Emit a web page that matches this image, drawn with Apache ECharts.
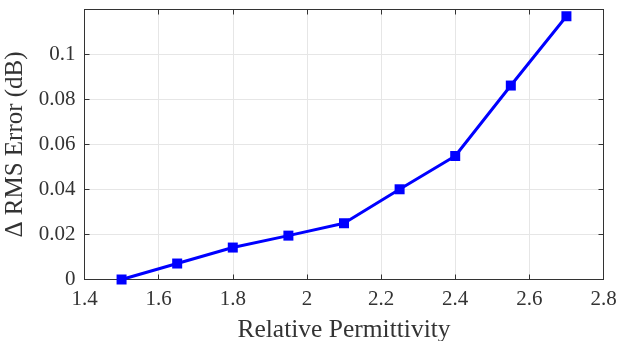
<!DOCTYPE html>
<html><head><meta charset="utf-8">
<script src="https://cdn.jsdelivr.net/npm/echarts@6/dist/echarts.min.js"></script>
<style>html,body{margin:0;padding:0;background:#fff}#c{width:621px;height:341px}</style>
</head><body><div id="c"></div>
<script>
const permittivity = [1.5, 1.65, 1.8, 1.95, 2.1, 2.25, 2.4, 2.55, 2.7];
const rmsError = [0, 0.0071, 0.0142, 0.0195, 0.025, 0.0401, 0.0549, 0.0862, 0.117];
const xTitle = 'Relative Permittivity';
const yTitle = 'Δ RMS Error (dB)';
const data = permittivity.map((x, i) => [x, rmsError[i]]);
const font = 'Liberation Serif';
const axisCol = '#333';
const chart = echarts.init(document.getElementById('c'), null, {renderer: 'canvas'});
const base = {
  axisLine: {show: true, onZero: false, lineStyle: {color: axisCol, width: 1}},
  axisTick: {show: true, inside: true, length: 5, lineStyle: {color: axisCol}},
};
chart.setOption({
  animation: false,
  grid: {left: 84.5, right: 17.5, top: 9.5, bottom: 61.5, show: false,
    containLabel: false, outerBoundsMode: 'none'},
  xAxis: [
    Object.assign({}, base, {type: 'value', min: 1.4, max: 2.8, interval: 0.2,
      name: xTitle, nameLocation: 'middle', nameGap: 37.5,
      nameTextStyle: {fontFamily: font, fontSize: 25.5, color: '#333'},
      axisLabel: {fontFamily: font, fontSize: 21, color: '#333', margin: 9},
      splitLine: {show: true, lineStyle: {color: '#e6e6e6', width: 1}}}),
    Object.assign({}, base, {type: 'value', position: 'top', min: 1.4, max: 2.8, interval: 0.2,
      axisLabel: {show: false}, splitLine: {show: false}})
  ],
  yAxis: [
    Object.assign({}, base, {type: 'value', min: 0, max: 0.12, interval: 0.02,
      name: yTitle, nameLocation: 'middle', nameGap: 52, nameRotate: 90,
      nameTextStyle: {fontFamily: font, fontSize: 25, color: '#333'},
      axisLabel: {fontFamily: font, fontSize: 21, color: '#333', margin: 9,
        formatter: v => (Math.abs(v - 0.12) < 1e-9 ? '' : String(+v.toFixed(3)))},
      splitLine: {show: true, lineStyle: {color: '#e6e6e6', width: 1}}}),
    Object.assign({}, base, {type: 'value', position: 'right', min: 0, max: 0.12, interval: 0.02,
      axisLabel: {show: false}, splitLine: {show: false}})
  ],
  series: [{
    type: 'line', data: data, xAxisIndex: 0, yAxisIndex: 0,
    symbol: 'rect', symbolSize: 10, showAllSymbol: true,
    lineStyle: {color: '#0000ff', width: 3},
    itemStyle: {color: '#0000ff'}
  }]
});
</script></body></html>
